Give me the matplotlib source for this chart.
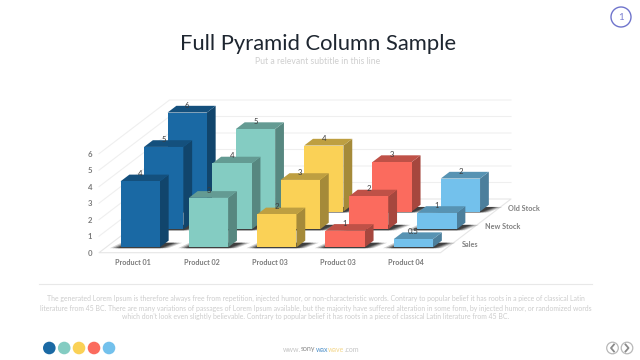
import matplotlib
matplotlib.use("Agg")
import matplotlib.pyplot as plt
from matplotlib.patches import Polygon, Circle
from matplotlib.lines import Line2D
from matplotlib.colors import to_rgb

# ---- data ----
title = "Full Pyramid Column Sample"
subtitle = "Put a relevant subtitle in this line"
categories = ["Product 01", "Product 02", "Product 03", "Product 03", "Product 04"]
series_names = ["Sales", "New Stock", "Old Stock"]
sales = [4, 3, 2, 1, 0.5]
new_stock = [5, 4, 3, 2, 1]
old_stock = [6, 5, 4, 3, 2]
value_ticks = [0, 1, 2, 3, 4, 5, 6]
colors = ["#1a69a4", "#84ccc2", "#fad156", "#fb6b5e", "#73c1ec"]
body_lines = [
    "The generated Lorem Ipsum is therefore always free from repetition, injected humor, or non-characteristic words. Contrary to popular belief it has roots in a piece of classical Latin",
    "literature from 45 BC. There are many variations of passages of Lorem Ipsum available, but the majority have suffered alteration in some form, by injected humor, or randomized words",
    "which don't look even slightly believable. Contrary to popular belief it has roots in a piece of classical Latin literature from 45 BC.",
]
url_runs = [("www.", "#c4c4c4"), ("sony", "#8a8a8a"), ("wax", "#4f90c8"), ("wave", "#f3d68a"), (".com", "#c4c4c4")]

FONT = "Lato"
W, H = 640, 360
fig = plt.figure(figsize=(6.4, 3.6), dpi=100, facecolor="white")

bg = fig.add_axes([0, 0, 1, 1], zorder=0)
bg.set_xlim(0, W); bg.set_ylim(H, 0); bg.axis("off")

# ---- oblique chart axes: x = category units, y = value units ----
CAT_PX, VAL_PX = 68.3, 16.5
ROW_DX, ROW_DY = 23.5 / CAT_PX, 17.9 / VAL_PX
left, right, floor_px, top_px = 99.0, 99.0 + (5 + 3 * ROW_DX) * CAT_PX, 252.7, 252.7 - (6 + 3 * ROW_DY) * VAL_PX
ax = fig.add_axes([left / W, 1 - floor_px / H, (right - left) / W, (floor_px - top_px) / H], zorder=1)
ax.set_xlim(0, 5 + 3 * ROW_DX)
ax.set_ylim(0, 6 + 3 * ROW_DY)
ax.patch.set_alpha(0)
for s in ax.spines.values():
    s.set_visible(False)


def P(c, v, d):
    return (c + ROW_DX * d, v + ROW_DY * d)


grid_c = "#efefef"
for v in value_ticks[1:]:
    ax.plot(*zip(P(0, v, 0), P(0, v, 3), P(5, v, 3)), color=grid_c, lw=0.8, zorder=1, clip_on=False)
ax.plot(*zip(P(0, 0, 3), P(0, 0, 0), P(5, 0, 0), P(5, 0, 3), P(0, 0, 3)),
        color="#e6e6e6", lw=0.8, zorder=1, clip_on=False)

BAR_W = 0.575
FRONT, BACK = 0.30, 0.675
z = 2


def shade(col, k):
    return tuple(x * k for x in to_rgb(col))


rows = [sales, new_stock, old_stock]
for i in [2, 1, 0]:
    vals = rows[i]
    for c, v in enumerate(vals):
        x0, x1 = c + 0.5 - BAR_W / 2, c + 0.5 + BAR_W / 2
        d0, d1 = i + FRONT, i + BACK
        for grow, a in [(0.13, 0.20), (0.09, 0.32), (0.05, 0.45), (0.015, 0.55)]:
            ax.add_patch(Polygon([P(x0 - grow - 0.02, -0.03, d0 - 0.02), P(x1 + grow, -0.03, d0 - 0.02),
                                  P(x1 + grow + 0.11, 0, d1 - 0.12), P(x0 - grow + 0.05, 0, d1 - 0.12)],
                                 closed=True, fc="#222222", ec="none", alpha=a, zorder=z, clip_on=False))
        z += 1
        col = colors[c]
        ax.add_patch(Polygon([P(x1, 0, d0), P(x1, 0, d1), P(x1, v, d1), P(x1, v, d0)],
                             closed=True, fc=shade(col, 0.66), ec="none", zorder=z, clip_on=False))
        ax.add_patch(Polygon([P(x0, v, d0), P(x1, v, d0), P(x1, v, d1), P(x0, v, d1)],
                             closed=True, fc=shade(col, 0.76), ec="none", zorder=z, clip_on=False))
        ax.add_patch(Polygon([P(x0, 0, d0), P(x1, 0, d0), P(x1, v, d0), P(x0, v, d0)],
                             closed=True, fc=col, ec="none", zorder=z, clip_on=False))
        lx, ly = P(c + 0.5, v, d0)
        ax.annotate(f"{v:g}", (lx, ly), xytext=(0, 5.4), textcoords="offset points",
                    ha="center", va="center", fontsize=5.6, color="#3c3c3c", family=FONT,
                    zorder=200, annotation_clip=False)
        z += 1

ax.set_xticks([c + 0.5 for c in range(5)])
ax.set_xticklabels(categories, fontsize=5.2, color="#7a7a7a", family=FONT, fontweight="bold")
ax.set_yticks(value_ticks)
ax.set_yticklabels([str(v) for v in value_ticks], fontsize=5.6, color="#7a7a7a", family=FONT, fontweight="bold")
ax.tick_params(axis="both", length=0)
ax.tick_params(axis="x", pad=4.6)
ax.tick_params(axis="y", pad=4.8)

for i, name in enumerate(series_names):
    lx, ly = P(5, 0, i + 0.5)
    ax.annotate(name, (lx, ly), xytext=(6.6, -0.4), textcoords="offset points", ha="left", va="center",
                fontsize=5.2, color="#808080", family=FONT, fontweight="bold", annotation_clip=False)

# ---- slide furniture ----
bg.text(318, 44.5, title, ha="center", va="center", fontsize=15.8, color="#1e2630", family=FONT)
bg.text(318, 61.5, subtitle, ha="center", va="center", fontsize=6.2, color="#cfcfcf", family=FONT)

bg.add_line(Line2D([39, 592], [283.5, 283.5], color="#e8e8e8", lw=0.8))
for y, line in zip([298.5, 308, 317], body_lines):
    bg.text(315.5, y, line, ha="center", va="center", fontsize=4.95, color="#cccccc", family=FONT)

for cx, col in zip([49.3, 64.2, 79, 94, 109], colors):
    bg.add_patch(Circle((cx, 348), 6.3, fc=col, ec="none"))

# footer url as adjoining coloured runs, each placed where the last one ended
renderer = fig.canvas.get_renderer()
x_px = 283.0
for run, col in url_runs:
    t = bg.text(x_px, 349, run, ha="left", va="center", fontsize=5.0, color=col, family=FONT)
    x_px += t.get_window_extent(renderer).width

for cx, chev in [(612.5, "left"), (627, "right")]:
    bg.add_patch(Circle((cx, 348), 5.8, fc="white", ec="#b8b8b8", lw=0.9))
    sx = -1 if chev == "left" else 1
    bg.add_line(Line2D([cx - sx * 1.5, cx + sx * 1.5, cx - sx * 1.5], [344.5, 348, 351.5], color="#8a8a8a", lw=1.3))

bg.add_patch(Circle((621, 17), 10, fc="white", ec="#6f74cc", lw=1.0))
bg.text(621, 17, "1", ha="center", va="center", fontsize=7, color="#7a7ed0", family=FONT)

fig.savefig("out.png", dpi=100, facecolor="white")
